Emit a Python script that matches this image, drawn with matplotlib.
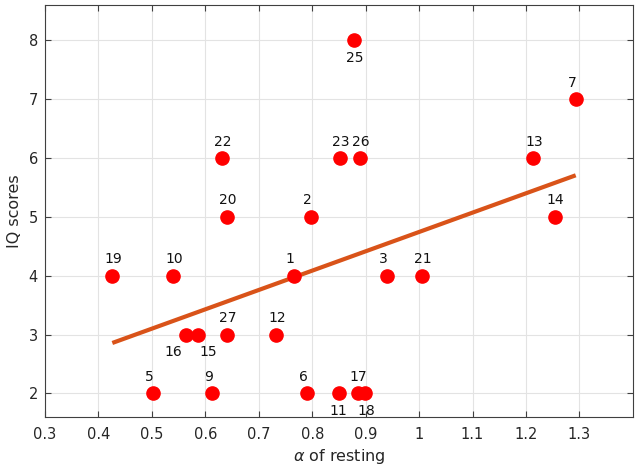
import numpy as np
import matplotlib
matplotlib.use("Agg")
import matplotlib.pyplot as plt

subjects = [1, 2, 3, 5, 6, 7, 9, 10, 11, 12, 13, 14, 15, 16, 17, 18, 19, 20, 21, 22, 23, 25, 26, 27]
alpha = [0.765, 0.797, 0.939, 0.502, 0.790, 1.293, 0.612, 0.540, 0.851, 0.733, 1.213, 1.254,
         0.586, 0.564, 0.885, 0.899, 0.426, 0.640, 1.005, 0.632, 0.852, 0.879, 0.889, 0.641]
iq = [4, 5, 4, 2, 2, 7, 2, 4, 2, 3, 6, 5, 3, 3, 2, 2, 4, 5, 4, 6, 6, 8, 6, 3]
below_labels = [25, 16, 15, 11, 18]

fig = plt.figure(figsize=(6.38, 4.72), dpi=100)
ax = fig.add_axes([0.0705, 0.1165, 0.9215, 0.8735])

x = np.array(alpha)
y = np.array(iq)
slope, icpt = np.polyfit(x, y, 1)
xl = np.array([x.min(), x.max()])
ax.plot(xl, slope * xl + icpt, color='#D95319', lw=3, zorder=2, solid_capstyle='butt')

ax.plot(x, y, 'o', color='#FF0000', ms=9.5, zorder=3)

px = 0.72  # points per pixel
for s, xv, yv in zip(subjects, alpha, iq):
    if s in below_labels:
        dx = -8
        if s == 16:
            dx = -22
        elif s == 15:
            dx = 2
        elif s == 11:
            dx = -10
        ax.annotate(str(s), (xv, yv), xytext=(dx * px, -10.5 * px), textcoords='offset points',
                    ha='left', va='top', fontsize=10, color='#111111')
    else:
        ax.annotate(str(s), (xv, yv), xytext=(-8 * px, 12.3 * px), textcoords='offset points',
                    ha='left', va='baseline', fontsize=10, color='#111111')

ax.set_xlim(0.3, 1.4)
ax.set_ylim(1.6, 8.6)
ax.set_xticks(np.arange(0.3, 1.31, 0.1))
ax.set_xticklabels(['0.3', '0.4', '0.5', '0.6', '0.7', '0.8', '0.9', '1', '1.1', '1.2', '1.3'])
ax.set_yticks([2, 3, 4, 5, 6, 7, 8])
ax.grid(True, color='#E3E3E3', lw=0.8)
ax.set_axisbelow(True)
ax.tick_params(direction='in', top=True, right=True, length=4, width=0.8,
               colors='#404040', labelcolor='#262626', labelsize=10.5)
ax.tick_params(axis='x', pad=7.5)
ax.tick_params(axis='y', pad=5)
for sp in ax.spines.values():
    sp.set_color('#404040')
    sp.set_linewidth(0.8)

ax.set_xlabel(r'$\alpha$ of resting', fontsize=11.5, color='#262626', labelpad=3)
ax.set_ylabel('IQ scores', fontsize=11.5, color='#262626', labelpad=5)

fig.savefig('out.png', dpi=100)
